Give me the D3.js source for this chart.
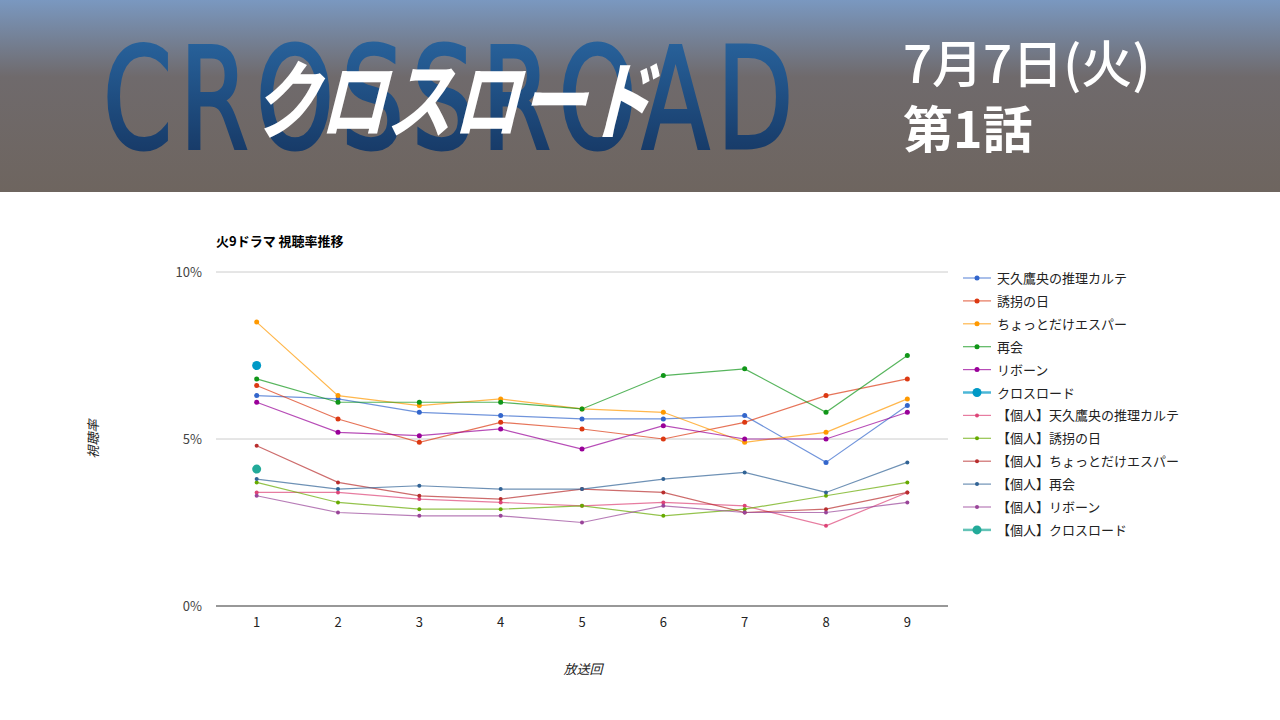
<!DOCTYPE html>
<html>
<head>
<meta charset="utf-8">
<title>火9ドラマ 視聴率推移</title>
<script src="https://cdn.jsdelivr.net/npm/d3@7/dist/d3.min.js"></script>
<style>
body { margin: 0; background: #fff; }
svg { display: block; font-family: "Noto Sans CJK JP", "Noto Sans", sans-serif; }
</style>
</head>
<body>
<script>
  // データ
  var episodes = ["1", "2", "3", "4", "5", "6", "7", "8", "9"];
  var yTicks = [0, 5, 10];
  var names = [
    "天久鷹央の推理カルテ", "誘拐の日", "ちょっとだけエスパー", "再会", "リボーン", "クロスロード",
    "【個人】天久鷹央の推理カルテ", "【個人】誘拐の日", "【個人】ちょっとだけエスパー",
    "【個人】再会", "【個人】リボーン", "【個人】クロスロード"
  ];
  var amakuRate   = [6.3, 6.2, 5.8, 5.7, 5.6, 5.6, 5.7, 4.3, 6.0];
  var yukaiRate   = [6.6, 5.6, 4.9, 5.5, 5.3, 5.0, 5.5, 6.3, 6.8];
  var espRate     = [8.5, 6.3, 6.0, 6.2, 5.9, 5.8, 4.9, 5.2, 6.2];
  var saikaiRate  = [6.8, 6.1, 6.1, 6.1, 5.9, 6.9, 7.1, 5.8, 7.5];
  var rebornRate  = [6.1, 5.2, 5.1, 5.3, 4.7, 5.4, 5.0, 5.0, 5.8];
  var crossRate   = [7.2];
  var amakuKojin  = [3.4, 3.4, 3.2, 3.1, 3.0, 3.1, 3.0, 2.4, 3.4];
  var yukaiKojin  = [3.7, 3.1, 2.9, 2.9, 3.0, 2.7, 2.9, 3.3, 3.7];
  var espKojin    = [4.8, 3.7, 3.3, 3.2, 3.5, 3.4, 2.8, 2.9, 3.4];
  var saikaiKojin = [3.8, 3.5, 3.6, 3.5, 3.5, 3.8, 4.0, 3.4, 4.3];
  var rebornKojin = [3.3, 2.8, 2.7, 2.7, 2.5, 3.0, 2.8, 2.8, 3.1];
  var crossKojin  = [4.1];

  var values = [amakuRate, yukaiRate, espRate, saikaiRate, rebornRate, crossRate,
                amakuKojin, yukaiKojin, espKojin, saikaiKojin, rebornKojin, crossKojin];
  var colors = ["#3366cc", "#dc3912", "#ff9900", "#109618", "#990099", "#0099c6",
                "#dd4477", "#66aa00", "#b82e2e", "#316395", "#994499", "#22aa99"];

  var series = names.map(function(n, i) {
    return { name: n, values: values[i], color: colors[i], big: (i === 5 || i === 11), kojin: i > 5 };
  });

  var width = 1280, height = 720;
  var svg = d3.select("body").append("svg").attr("width", width).attr("height", height);
  var defs = svg.append("defs");

  // ヘッダー
  var bg = defs.append("linearGradient").attr("id", "bg").attr("x1", 0).attr("y1", 0).attr("x2", 0).attr("y2", 1);
  bg.append("stop").attr("offset", "0%").attr("stop-color", "#7a98c0");
  bg.append("stop").attr("offset", "40%").attr("stop-color", "#6f6a6c");
  bg.append("stop").attr("offset", "100%").attr("stop-color", "#6e655f");
  var bl = defs.append("linearGradient").attr("id", "bl").attr("x1", 0).attr("y1", 0).attr("x2", 0).attr("y2", 1);
  bl.append("stop").attr("offset", "0%").attr("stop-color", "#2b6aa6");
  bl.append("stop").attr("offset", "100%").attr("stop-color", "#13305a");

  svg.append("rect").attr("x", 0).attr("y", 0).attr("width", width).attr("height", 192).attr("fill", "url(#bg)");
  // 縦長のロゴ文字（横方向に縮める）
  svg.append("text")
    .attr("transform", "translate(103,148) scale(0.78,1)")
    .attr("textLength", 885).attr("lengthAdjust", "spacing")
    .attr("font-family", "'DejaVu Sans Condensed', 'Liberation Sans Narrow', sans-serif")
    .attr("font-weight", "normal").attr("font-size", 141)
    .attr("stroke", "url(#bl)").attr("stroke-width", 3)
    .attr("fill", "url(#bl)")
    .text("CROSSROAD");
  svg.append("text")
    .attr("transform", "translate(252,132) skewX(-14)")
    .attr("textLength", 400).attr("lengthAdjust", "spacingAndGlyphs")
    .attr("font-weight", "bold").attr("font-size", 86)
    .attr("fill", "#fff")
    .text("クロスロード");
  svg.append("text").attr("x", 903).attr("y", 83)
    .attr("font-size", 51).attr("font-weight", 500).attr("fill", "#fff").text("7月7日(火)");
  svg.append("text").attr("x", 903).attr("y", 148)
    .attr("font-size", 50).attr("font-weight", "bold").attr("fill", "#fff").text("第1話");

  // グラフ
  var plotLeft = 216, plotRight = 948, plotTop = 272, plotBottom = 606;
  var x = d3.scalePoint().domain(episodes).range([plotLeft, plotRight]).padding(0.5);
  var y = d3.scaleLinear().domain([0, 10]).range([plotBottom, plotTop]);

  svg.append("text").attr("x", 216).attr("y", 246)
    .attr("font-size", 13).attr("font-weight", "bold").attr("fill", "#000")
    .text("火9ドラマ 視聴率推移");

  svg.append("g").selectAll("line").data(yTicks.filter(function(d) { return d > 0; }))
    .enter().append("line")
    .attr("x1", plotLeft).attr("x2", plotRight)
    .attr("y1", function(d) { return y(d); }).attr("y2", function(d) { return y(d); })
    .attr("stroke", "#cccccc").attr("stroke-width", 1);
  svg.append("line").attr("x1", plotLeft).attr("x2", plotRight).attr("y1", y(0)).attr("y2", y(0))
    .attr("stroke", "#333").attr("stroke-width", 1.2);

  svg.append("g").selectAll("text").data(yTicks).enter().append("text")
    .attr("x", 202).attr("y", function(d) { return y(d) + 5; })
    .attr("text-anchor", "end").attr("font-size", 13).attr("fill", "#444")
    .text(function(d) { return d + "%"; });

  svg.append("g").selectAll("text").data(episodes).enter().append("text")
    .attr("x", function(d) { return x(d); }).attr("y", 627)
    .attr("text-anchor", "middle").attr("font-size", 13).attr("fill", "#222")
    .text(function(d) { return d; });

  svg.append("text").attr("x", 583).attr("y", 674).attr("text-anchor", "middle")
    .attr("font-size", 13).attr("font-style", "italic").attr("fill", "#222").text("放送回");
  svg.append("text").attr("transform", "translate(98,439) rotate(-90)").attr("text-anchor", "middle")
    .attr("font-size", 13).attr("font-style", "italic").attr("fill", "#222").text("視聴率");

  var line = d3.line()
    .x(function(d, i) { return x(episodes[i]); })
    .y(function(d) { return y(d); });

  var g = svg.append("g");
  series.forEach(function(s) {
    if (s.values.length > 1) {
      g.append("path").attr("d", line(s.values)).attr("fill", "none")
        .attr("stroke", s.color).attr("stroke-opacity", 0.7)
        .attr("stroke-width", 1.2);
    }
  });
  series.forEach(function(s) {
    g.append("g").selectAll("circle").data(s.values).enter().append("circle")
      .attr("cx", function(d, i) { return x(episodes[i]); })
      .attr("cy", function(d) { return y(d); })
      .attr("r", s.big ? 4.5 : (s.kojin ? 2 : 2.5))
      .attr("fill", s.color);
  });

  // 凡例
  var legend = svg.append("g").selectAll("g").data(series).enter().append("g")
    .attr("transform", function(d, i) { return "translate(963," + (278 + i * 22.9) + ")"; });
  legend.append("line").attr("x1", 0).attr("x2", 28).attr("y1", 0).attr("y2", 0)
    .attr("stroke", function(d) { return d.color; }).attr("stroke-opacity", 0.7)
    .attr("stroke-width", function(d) { return d.big ? 2.5 : 1.2; });
  legend.append("circle").attr("cx", 14).attr("cy", 0)
    .attr("r", function(d) { return d.big ? 4.5 : (d.kojin ? 2 : 2.5); })
    .attr("fill", function(d) { return d.color; });
  legend.append("text").attr("x", 34).attr("y", 5)
    .attr("font-size", 13).attr("fill", "#222")
    .text(function(d) { return d.name; });
</script>
</body>
</html>
